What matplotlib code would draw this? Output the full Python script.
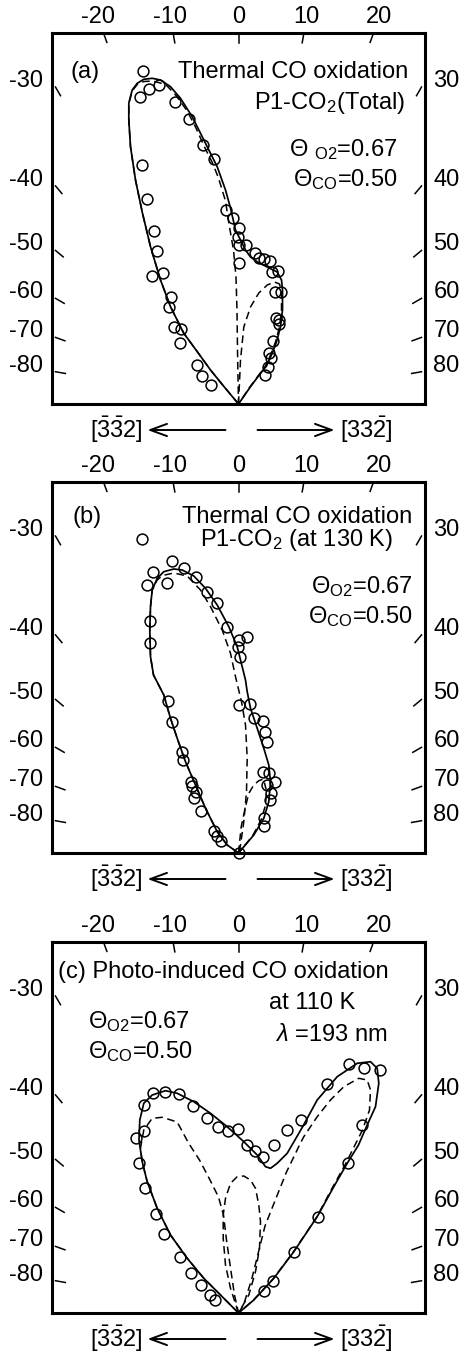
import numpy as np
import matplotlib
matplotlib.use("Agg")
from matplotlib import pyplot as plt

plt.rcParams["font.family"] = ["Liberation Sans", "DejaVu Sans"]
plt.rcParams["mathtext.fontset"] = "custom"
plt.rcParams["mathtext.rm"] = "Liberation Sans"
plt.rcParams["mathtext.it"] = "Liberation Sans:italic"
plt.rcParams["mathtext.bf"] = "Liberation Sans:bold"

# angular distributions, drawn as (I*sin(theta), I*cos(theta)), arb. units
top_angles = [-20, -10, 0, 10, 20]
side_angles = [30, 40, 50, 60, 70, 80]

# (a) thermal, total
a_pts_x = [-96, -98.7, -90, -79.7, -64, -49.5, -36, -24.7, -96.3, -91.3,
           -12.8, -6, 0.3, -0.3, 0, 7, 16, 20.3, 25.3, 31.3,
           33.7, 39.7, 0.3, 36.3, 42, 37, 40.3, 40.3, 34.7, 30.3,
           32, 29.3, 26.3, -84.7, -81.3, -86.3, -75.5, -67.3, -69.7, -64.7,
           -58, -59, -41.5, -37, -28]
a_pts_y = [333, 307, 315, 319, 302.5, 284.7, 259, 244.7, 239.5, 205,
           194.5, 186, 176, 167.3, 159, 159, 150.7, 145.7, 144.7, 143.3,
           132.3, 133, 140.7, 112.3, 112.3, 85.7, 84, 79.7, 63, 50.7,
           45.7, 37.3, 29, 173, 153, 128, 131.3, 107, 97.3, 77.3,
           74.7, 61.3, 39, 28.5, 18.8]
a_fit_x = [0, -15, -28, -41, -54.7, -68, -78, -88, -96.3, -103, -108, -109.7,
           -109.7, -106.3, -101.3, -94.7, -86.3, -78, -68, -58, -46.3, -33,
           -21.3, -13, -8, -3, 2, 7, 12, 19, 28.7, 38.7, 43, 44, 44, 42, 38,
           33.7, 28, 22, 12, 0]
a_fit_y = [0, 18, 34, 52, 70.7, 97.3, 124, 157.3, 192, 224, 257.3, 284,
           300.7, 314, 320.7, 324.7, 325.7, 324, 317.3, 305.7, 287.3, 260.7,
           237.3, 214, 196, 174, 164, 154, 147, 142, 137, 132, 124, 114, 94,
           77, 62, 50.7, 38, 30.7, 17.3, 0]
a_lobe1_x = [0, -15, -28, -41, -54.7, -68, -78, -88, -96.3, -103, -108, -109.7,
             -109.7, -106.3, -101.3, -94.7, -86.3, -78, -71.3, -62, -51.3, -43,
             -34, -26, -20, -13, -9.5, -5, -2.5, -1.5, -1, 0]
a_lobe1_y = [0, 18, 34, 52, 70.7, 97.3, 124, 157.3, 192, 224, 257.3, 284,
             300.7, 313, 319.5, 322.5, 323, 321, 318, 308, 293, 277, 257, 241,
             226, 203, 180, 154, 127, 94, 54, 0]
a_lobe2_x = [0, 2, 5.3, 12, 20.3, 28.7, 36, 41, 43, 43, 41, 37, 32.5, 27, 21, 11, 0]
a_lobe2_y = [0, 44, 77, 97, 111, 119, 122, 120, 112, 94, 77, 62, 50, 38, 30, 16.5, 0]

# (b) thermal, 130 K
b_pts_x = [-96.3, -66.5, -86, -55, -43, -92, -72, -31.5, -21.3, -88.5,
           -11.3, -88.5, 0.3, 8.3, -0.5, 1.6, -70.7, -66.3, -56.3, -56,
           -47.3, -46.3, -43, -44.7, -38, -24.3, -21.7, -17.7, 0, 0.3,
           11.3, 15, 24.5, 26.5, 28.7, 24.7, 30, 36, 28.7, 32,
           31.7, 25.3, 25.8]
b_pts_y = [313.7, 292, 281.3, 285, 276.3, 268, 269.7, 261.5, 249.7, 232,
           226, 210.3, 212.7, 216, 206, 196.3, 152, 130.7, 101, 93,
           71.5, 67.5, 61.3, 55.5, 42.5, 22, 17.5, 11.7, 0, 147.7,
           148.7, 134.7, 132, 121.5, 111.3, 81.3, 79.7, 71.3, 68, 60,
           53, 34.7, 27]
b_fit_x = [0, -11.3, -21.3, -33, -43, -53, -61.3, -68, -74.7, -85, -88, -88.7,
           -88, -86.3, -81.3, -74.7, -64.7, -56.3, -44.7, -33, -21.3, -9.7,
           -1.3, 3.7, 7, 8.7, 12, 18.7, 25.3, 30.3, 32, 30.3, 25.3, 15.3, 0]
b_fit_y = [0, 8, 21.3, 44.7, 68, 91.3, 114.7, 134.7, 158, 178, 196.3, 223,
           246.3, 263, 274.7, 281.3, 284, 283, 277, 264.7, 248, 226.3, 206.3,
           186.3, 173, 161.3, 144.7, 124.7, 104.7, 88, 71.3, 51.3, 34.7, 18, 0]
b_lobe1_x = [0, -11.3, -21.3, -33, -43, -53, -61.3, -68, -74.7, -85, -88, -88.7,
             -88, -86.3, -81.3, -76, -64.7, -51.3, -38, -28, -16.3, -8, -3, 3,
             7, 8.7, 8, 5.3, 2, 0]
b_lobe1_y = [0, 8, 21.3, 44.7, 68, 91.3, 114.7, 134.7, 158, 178, 196.3, 223,
             246.3, 263, 273, 277.5, 280, 277, 263, 246.3, 223, 199.7, 176.3,
             151.3, 128, 94.7, 61.3, 31.3, 8, 0]
b_lobe2_x = [0, 2.7, 7, 10.3, 15.3, 20.3, 25, 28, 27, 23, 14, 0]
b_lobe2_y = [0, 26.3, 46.3, 59.7, 68, 72.3, 74, 62, 48, 34, 17, 0]

# (c) photo-induced, 110 K
c_pts_x = [110.8, 125.3, 141.2, 88.7, 62.7, 48.7, 35.3, 123.7, 109.5, 79.5,
           55.3, 34, 25.3, -94.5, -85.5, -73.3, -59.7, -45.3, -31.3, -20.5,
           -10.5, -1, 8, 16.5, 24.3, -94.7, -103, -99.7, -94, -83,
           -75, -58.7, -47.7, -38, -29, -23.5]
c_pts_y = [249, 245.5, 243, 229.3, 193, 183, 168.2, 188.3, 149.7, 96.3,
           60.7, 32.3, 22, 208, 219.7, 221.3, 218.8, 207, 195.3, 186,
           182.5, 184, 168, 161.7, 156.3, 182, 175, 150.5, 125.5, 98.7,
           79.3, 56.3, 40.5, 28, 18.5, 13.3]
c_fit_x = [0, -18, -34.7, -51.3, -68, -81.3, -91.3, -96.3, -99.5, -98.7,
           -94.7, -86.3, -73, -61.3, -44.7, -28, -11.3, 5.3, 18.7, 27,
           32, 38.7, 48.7, 64, 78.7, 98.7, 118.7, 132, 138.7, 140.3,
           137, 128.7, 120, 108.7, 95.3, 78.7, 55.3, 35.3, 15.3, 0]
c_fit_y = [0, 18, 34.7, 54.7, 78, 104.7, 131.3, 151.3, 173, 193,
           209.7, 218, 222.3, 219.7, 211.3, 199.7, 186.3, 171.3, 158, 146.3,
           144.7, 149.7, 159.7, 186, 213, 236.3, 249.7, 251.3, 244.7, 229.7,
           206.3, 188, 168, 149.7, 126.3, 96.3, 61.3, 34.7, 13, 0]
c_lobe1_x = [0, -18, -34.7, -51.3, -68, -81.3, -91.3, -96.3, -98, -94.7, -86.3,
             -76.3, -61.3, -50, -39, -29, -20, -15, -12, -8, -4, 0]
c_lobe1_y = [0, 18, 34.7, 54.7, 78, 104.7, 131.3, 151, 165, 183, 194.7,
             195.7, 191, 170, 153, 134, 116, 98, 73, 45, 18, 0]
c_lobe2_x = [0, -8, -13, -15.3, -15.3, -13, -8, -1.3, 5.3, 12, 17, 20.3, 22, 21,
             17, 10.3, 0]
c_lobe2_y = [0, 24.7, 48, 74.7, 98, 114.7, 129.7, 136.3, 137, 133, 124.7, 108,
             91.3, 64.7, 41.3, 18, 0]
c_lobe3_x = [0, 5, 13, 20, 26.5, 36, 48, 62, 65.3, 78.7, 92, 105.3, 120.3,
             128.7, 132, 131, 124, 115, 107, 94, 78, 54.5, 34.5, 14.5, 0]
c_lobe3_y = [0, 8, 33, 61, 87, 111, 141, 170, 176.3, 196.3, 213, 226.3, 234.7,
             233, 223, 203, 183, 165, 149, 125.5, 95.5, 60.5, 34, 12.5, 0]

H = 371.0
HALF_W = 186.5
FS = 17


def draw_frame(ax):
    ax.set_xlim(-HALF_W, HALF_W)
    ax.set_ylim(0, H)
    ax.set_xticks([])
    ax.set_yticks([])
    for sp in ax.spines.values():
        sp.set_linewidth(2.2)

    tick_len = 10
    for a in top_angles:
        t = np.radians(a)
        x0, y0 = H * np.tan(t), H
        ax.plot([x0, x0 - tick_len * np.sin(t)], [y0, y0 - tick_len * np.cos(t)],
                color="k", lw=1.1, clip_on=False)
        ax.text(387 * np.tan(t), 387, str(a), ha="center", va="center",
                fontsize=FS, clip_on=False)

    edge = 183
    for a in side_angles:
        t = np.radians(a)
        y0 = edge / np.tan(t)
        for side in (-1, 1):
            x0 = side * edge
            ax.plot([x0, x0 - side * tick_len * np.sin(t)],
                    [y0, y0 - tick_len * np.cos(t)], color="k", lw=1.1, clip_on=False)
        ax.text(-195, y0 + 6, "-" + str(a), ha="right", va="center", fontsize=FS)
        ax.text(195, y0 + 6, str(a), ha="left", va="center", fontsize=FS)

    y_ar = -26
    ar = dict(arrowstyle="->,head_length=0.6,head_width=0.22", lw=1.4,
              color="k", shrinkA=0, shrinkB=0, mutation_scale=20)
    ax.annotate("", xy=(-91, y_ar), xytext=(-13, y_ar), arrowprops=ar,
                annotation_clip=False)
    ax.annotate("", xy=(96, y_ar), xytext=(19, y_ar), arrowprops=ar,
                annotation_clip=False)
    ax.text(-122, y_ar, r"$[\bar{3}\bar{3}2]$", ha="center", va="center", fontsize=FS)
    ax.text(128, y_ar, r"$[33\bar{2}]$", ha="center", va="center", fontsize=FS)


def draw_data(ax, px, py, fit, lobes):
    ax.plot(fit[0], fit[1], color="k", lw=1.25, zorder=3)
    for lx, ly in lobes:
        ax.plot(lx, ly, color="k", lw=1.1, ls=(0, (5, 3)), zorder=3)
    ax.plot(px, py, "o", ms=7.8, mfc="none", mec="k", mew=1.1,
            clip_on=False, zorder=4)


fig = plt.figure(figsize=(4.61, 13.53), dpi=100)
left, width, height = 52 / 461, 373 / 461, 371 / 1353

ax_a = fig.add_axes([left, (1353 - 404) / 1353, width, height])
draw_frame(ax_a)
draw_data(ax_a, a_pts_x, a_pts_y, (a_fit_x, a_fit_y),
          [(a_lobe1_x, a_lobe1_y), (a_lobe2_x, a_lobe2_y)])
ax_a.text(-168, 332, "(a)", ha="left", va="center", fontsize=FS)
ax_a.text(170, 332, "Thermal CO oxidation", ha="right", va="center", fontsize=FS)
ax_a.text(167, 301, "P1-CO$_2$(Total)", ha="right", va="center", fontsize=FS)
ax_a.text(159, 254, "Θ $_{\\rm O2}$=0.67", ha="right", va="center", fontsize=FS)
ax_a.text(159, 224, "Θ$_{\\rm CO}$=0.50", ha="right", va="center", fontsize=FS)

ax_b = fig.add_axes([left, (1353 - 853) / 1353, width, height])
draw_frame(ax_b)
draw_data(ax_b, b_pts_x, b_pts_y, (b_fit_x, b_fit_y),
          [(b_lobe1_x, b_lobe1_y), (b_lobe2_x, b_lobe2_y)])
ax_b.text(-166, 336, "(b)", ha="left", va="center", fontsize=FS)
ax_b.text(174, 336, "Thermal CO oxidation", ha="right", va="center", fontsize=FS)
ax_b.text(155, 313, "P1-CO$_2$ (at 130 K)", ha="right", va="center", fontsize=FS)
ax_b.text(174, 266, "Θ$_{\\rm O2}$=0.67", ha="right", va="center", fontsize=FS)
ax_b.text(174, 236, "Θ$_{\\rm CO}$=0.50", ha="right", va="center", fontsize=FS)

ax_c = fig.add_axes([left, (1353 - 1313) / 1353, width, height])
draw_frame(ax_c)
draw_data(ax_c, c_pts_x, c_pts_y, (c_fit_x, c_fit_y),
          [(c_lobe1_x, c_lobe1_y), (c_lobe2_x, c_lobe2_y), (c_lobe3_x, c_lobe3_y)])
ax_c.text(-181, 341, "(c) Photo-induced CO oxidation", ha="left", va="center", fontsize=FS)
ax_c.text(117, 310, "at 110 K", ha="right", va="center", fontsize=FS)
ax_c.text(149, 278, "$\\lambda$ =193 nm", ha="right", va="center", fontsize=FS)
ax_c.text(-151, 291, "Θ$_{\\rm O2}$=0.67", ha="left", va="center", fontsize=FS)
ax_c.text(-151, 261, "Θ$_{\\rm CO}$=0.50", ha="left", va="center", fontsize=FS)

fig.savefig("out.png", dpi=100)
